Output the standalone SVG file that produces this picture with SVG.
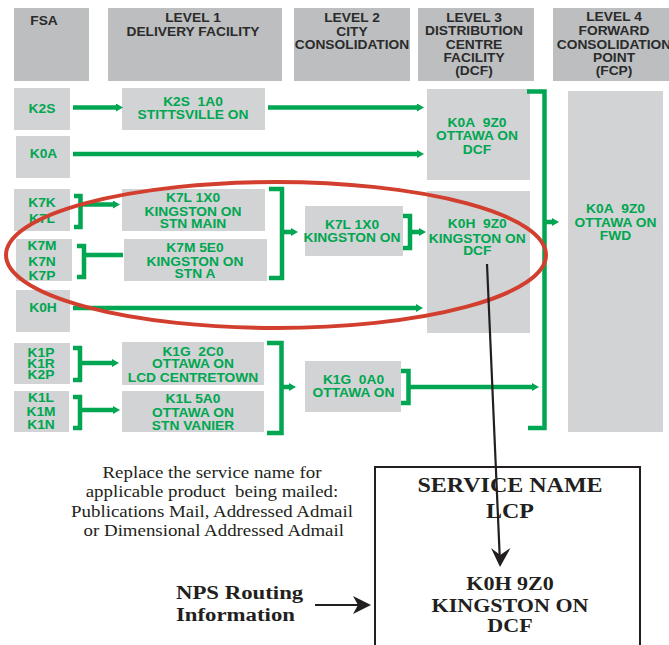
<svg xmlns="http://www.w3.org/2000/svg" width="669" height="645" viewBox="0 0 669 645">
<style>
.hb{fill:#bcbec0}
.nb{fill:#d1d3d4}
.h{font-family:"Liberation Sans",Arial,sans-serif;font-weight:bold;font-size:12.2px;fill:#2b2b2b;text-anchor:middle}
.g{font-family:"Liberation Sans",Arial,sans-serif;font-weight:bold;font-size:12.2px;fill:#00a651;text-anchor:middle}
.c{fill:none;stroke:#00a651;stroke-width:4.5;stroke-linecap:butt;stroke-linejoin:miter}
.t{font-family:"Liberation Serif","Times New Roman",serif;font-size:16px;fill:#231f20;text-anchor:middle}
.tb{font-family:"Liberation Serif","Times New Roman",serif;font-weight:bold;fill:#231f20}
</style>
<defs>
<marker id="ga" markerUnits="userSpaceOnUse" markerWidth="7" markerHeight="8" viewBox="0 0 7 8" refX="0" refY="4" orient="auto">
<path d="M0,0 L7,4 L0,8 z" fill="#00a651"/>
</marker>
</defs>

<g id="headers">
<g id="hdr-fsa"><rect class="hb" x="14" y="8" width="75" height="73"/>
<text class="h" transform="translate(44 0) scale(1.13 1)"><tspan x="0" y="25">FSA</tspan></text></g>
<g id="hdr-l1"><rect class="hb" x="108" y="8" width="174" height="73"/>
<text class="h" transform="translate(193 0) scale(1.13 1)"><tspan x="0" y="22">LEVEL 1</tspan><tspan x="0" y="36">DELIVERY FACILITY</tspan></text></g>
<g id="hdr-l2"><rect class="hb" x="294" y="8" width="116" height="73"/>
<text class="h" transform="translate(352 0) scale(1.13 1)"><tspan x="0" y="22">LEVEL 2</tspan><tspan x="0" y="36">CITY</tspan><tspan x="0" y="49.3">CONSOLIDATION</tspan></text></g>
<g id="hdr-l3"><rect class="hb" x="418" y="8" width="116" height="73"/>
<text class="h" transform="translate(474 0) scale(1.13 1)"><tspan x="0" y="22">LEVEL 3</tspan><tspan x="0" y="35.5">DISTRIBUTION</tspan><tspan x="0" y="49">CENTRE</tspan><tspan x="0" y="62.3">FACILITY</tspan><tspan x="0" y="75.5">(DCF)</tspan></text></g>
<g id="hdr-l4"><rect class="hb" x="553" y="8" width="116" height="73"/>
<text class="h" transform="translate(614 0) scale(1.13 1)"><tspan x="0" y="21">LEVEL 4</tspan><tspan x="0" y="35">FORWARD</tspan><tspan x="0" y="49">CONSOLIDATION</tspan><tspan x="0" y="61.7">POINT</tspan><tspan x="0" y="75">(FCP)</tspan></text></g>
</g>

<g id="fsa-k2s"><rect class="nb" x="14" y="88" width="56" height="42"/>
<text class="g" transform="translate(42 0) scale(1.13 1)"><tspan x="0" y="113">K2S</tspan></text></g>
<g id="fsa-k0a"><rect class="nb" x="16" y="136" width="54" height="42"/>
<text class="g" transform="translate(43.5 0) scale(1.13 1)"><tspan x="0" y="158">K0A</tspan></text></g>
<g id="fsa-k7k"><rect class="nb" x="14" y="189" width="56" height="42"/>
<text class="g" transform="translate(42 0) scale(1.13 1)"><tspan x="0" y="207">K7K</tspan><tspan x="0" y="223.5">K7L</tspan></text></g>
<g id="fsa-k7m"><rect class="nb" x="16" y="239" width="56" height="42"/>
<text class="g" transform="translate(42 0) scale(1.13 1)"><tspan x="0" y="250.5">K7M</tspan><tspan x="0" y="266">K7N</tspan><tspan x="0" y="280">K7P</tspan></text></g>
<g id="fsa-k0h"><rect class="nb" x="16" y="290" width="54" height="42"/>
<text class="g" transform="translate(43 0) scale(1.13 1)"><tspan x="0" y="312">K0H</tspan></text></g>
<g id="fsa-k1p"><rect class="nb" x="14" y="343" width="56" height="41"/>
<text class="g" transform="translate(41 0) scale(1.13 1)"><tspan x="0" y="356.7">K1P</tspan><tspan x="0" y="368.3">K1R</tspan><tspan x="0" y="379">K2P</tspan></text></g>
<g id="fsa-k1l"><rect class="nb" x="14" y="391" width="55" height="41"/>
<text class="g" transform="translate(41 0) scale(1.13 1)"><tspan x="0" y="401.7">K1L</tspan><tspan x="0" y="415.7">K1M</tspan><tspan x="0" y="429">K1N</tspan></text></g>

<g id="l1-k2s"><rect class="nb" x="122" y="88" width="143" height="42"/>
<text class="g" transform="translate(193 0) scale(1.13 1)"><tspan x="0" y="106">K2S&#160; 1A0</tspan><tspan x="0" y="119">STITTSVILLE ON</tspan></text></g>
<g id="l1-k7l"><rect class="nb" x="122" y="189" width="143" height="42"/>
<text class="g" transform="translate(193 0) scale(1.13 1)"><tspan x="0" y="201.7">K7L 1X0</tspan><tspan x="0" y="215.7">KINGSTON ON</tspan><tspan x="0" y="228.3">STN MAIN</tspan></text></g>
<g id="l1-k7m"><rect class="nb" x="124" y="239" width="143" height="42"/>
<text class="g" transform="translate(195 0) scale(1.13 1)"><tspan x="0" y="251.7">K7M 5E0</tspan><tspan x="0" y="265.7">KINGSTON ON</tspan><tspan x="0" y="278.3">STN A</tspan></text></g>
<g id="l1-k1g"><rect class="nb" x="122" y="342" width="142" height="43"/>
<text class="g" transform="translate(193 0) scale(1.13 1)"><tspan x="0" y="355.7">K1G&#160; 2C0</tspan><tspan x="0" y="368.3">OTTAWA ON</tspan><tspan x="0" y="381.7">LCD CENTRETOWN</tspan></text></g>
<g id="l1-k1l"><rect class="nb" x="122" y="391" width="142" height="41"/>
<text class="g" transform="translate(193 0) scale(1.13 1)"><tspan x="0" y="403.3">K1L 5A0</tspan><tspan x="0" y="416.7">OTTAWA ON</tspan><tspan x="0" y="430">STN VANIER</tspan></text></g>

<g id="l2-k7l"><rect class="nb" x="305" y="206" width="98" height="50"/>
<text class="g" transform="translate(352 0) scale(1.13 1)"><tspan x="0" y="229.3">K7L 1X0</tspan><tspan x="0" y="242.3">KINGSTON ON</tspan></text></g>
<g id="l2-k1g"><rect class="nb" x="305" y="361" width="96" height="51"/>
<text class="g" transform="translate(353.5 0) scale(1.13 1)"><tspan x="0" y="384">K1G&#160; 0A0</tspan><tspan x="0" y="397.3">OTTAWA ON</tspan></text></g>

<g id="dcf-k0a"><rect class="nb" x="427" y="89" width="103" height="91"/>
<text class="g" transform="translate(477 0) scale(1.13 1)"><tspan x="0" y="127.5">K0A&#160; 9Z0</tspan><tspan x="0" y="140.5">OTTAWA ON</tspan><tspan x="0" y="154">DCF</tspan></text></g>
<g id="dcf-k0h"><rect class="nb" x="427" y="191" width="103" height="142"/>
<text class="g" transform="translate(477.3 0) scale(1.13 1)"><tspan x="0" y="228.3">K0H&#160; 9Z0</tspan><tspan x="0" y="242.7">KINGSTON ON</tspan><tspan x="0" y="255">DCF</tspan></text></g>

<g id="fcp-k0a"><rect class="nb" x="568" y="91" width="95" height="341"/>
<text class="g" transform="translate(615.5 0) scale(1.13 1)"><tspan x="0" y="213.3">K0A&#160; 9Z0</tspan><tspan x="0" y="226.7">OTTAWA ON</tspan><tspan x="0" y="240">FWD</tspan></text></g>

<g id="connectors">
<path class="c" d="M73,107.5 H116" marker-end="url(#ga)"/>
<path class="c" d="M268,107.5 H417" marker-end="url(#ga)"/>
<path class="c" d="M73,154 H417" marker-end="url(#ga)"/>
<path class="c" d="M74,196 H80.5 V227 H74"/>
<path class="c" d="M80.5,204.5 H113" marker-end="url(#ga)"/>
<path class="c" d="M77,246 H84 V277 H77"/>
<path class="c" d="M84,255 H123"/>
<path class="c" d="M269,189 H282 V278 H269"/>
<path class="c" d="M282,232 H291" marker-end="url(#ga)"/>
<path class="c" d="M403,216 H410 V248 H403"/>
<path class="c" d="M410,232 H419" marker-end="url(#ga)"/>
<path class="c" d="M73,308 H416" marker-end="url(#ga)"/>
<path class="c" d="M73,348 H80 V380 H73"/>
<path class="c" d="M80,363 H112" marker-end="url(#ga)"/>
<path class="c" d="M73,397 H80 V428 H73"/>
<path class="c" d="M80,410 H113" marker-end="url(#ga)"/>
<path class="c" d="M267,343 H281.5 V433 H267"/>
<path class="c" d="M281.5,387 H289" marker-end="url(#ga)"/>
<path class="c" d="M401,371 H408.5 V403 H401"/>
<path class="c" d="M408.5,387 H532" marker-end="url(#ga)"/>
<path class="c" d="M527,91.5 H544.5 V428 H528"/>
<path class="c" d="M544.5,222 H552" marker-end="url(#ga)"/>
</g>

<g id="highlight">
<ellipse cx="276" cy="255" rx="270" ry="73" fill="none" stroke="#d23f2e" stroke-width="4"/>
</g>

<g id="label-box">
<rect x="375" y="467" width="265" height="190" fill="none" stroke="#231f20" stroke-width="2"/>
<text class="tb" font-size="20" text-anchor="middle" transform="translate(510 0) scale(1.2 1)"><tspan x="0" y="492">SERVICE NAME</tspan><tspan x="0" y="518">LCP</tspan></text>
<text class="tb" font-size="19" text-anchor="middle" transform="translate(510 0) scale(1.16 1)"><tspan x="0" y="590">K0H 9Z0</tspan><tspan x="0" y="612">KINGSTON ON</tspan><tspan x="0" y="632">DCF</tspan></text>
</g>

<g id="note">
<text class="t" transform="translate(212 0) scale(1.18 1)"><tspan x="0" y="478">Replace the service name for</tspan><tspan x="0" y="497">applicable product&#160; being mailed:</tspan><tspan x="0" y="517">Publications Mail, Addressed Admail</tspan><tspan x="1.5" y="536">or Dimensional Addressed Admail</tspan></text>
</g>

<g id="nps">
<text class="tb" font-size="19" transform="translate(176 0) scale(1.2 1)"><tspan x="0" y="599">NPS Routing</tspan><tspan x="0" y="621">Information</tspan></text>
</g>

<g id="pointers">
<line x1="487" y1="264" x2="499.7" y2="556" stroke="#231f20" stroke-width="2.2"/>
<polygon points="500,567 491,548 500.2,555 510.5,548" fill="#231f20"/>
<line x1="315" y1="605" x2="359" y2="605" stroke="#231f20" stroke-width="2.2"/>
<polygon points="371,605 353,596 358,605 353,614" fill="#231f20"/>
</g>
</svg>
